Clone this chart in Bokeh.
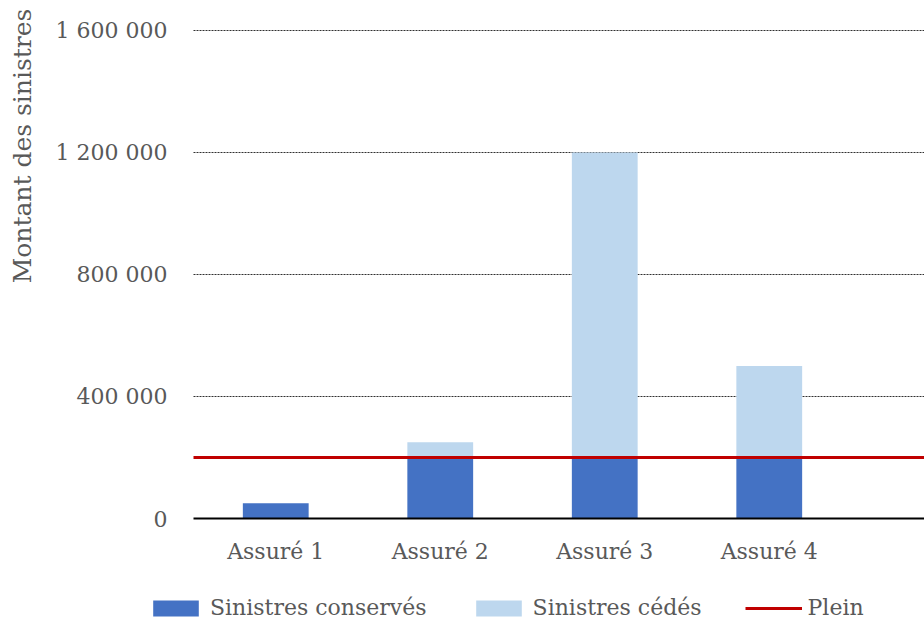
import math
from bokeh.plotting import figure
from bokeh.models import ColumnDataSource, Range1d, Legend, LegendItem
from bokeh.core.properties import value
from bokeh.embed import file_html
from bokeh.resources import INLINE

# Claims per insured, split between the retained part and the ceded part
assures = ["Assuré 1", "Assuré 2", "Assuré 3", "Assuré 4"]
conserves = [50000, 200000, 200000, 200000]
cedes = [0, 50000, 1000000, 300000]
plein = 200000

y_ticks = [0, 400000, 800000, 1200000, 1600000]
y_tick_labels = ["0", "400 000", "800 000", "1 200 000", "1 600 000"]
y_title = "Montant des sinistres"

FONT = value("DejaVu Serif")
FONT_SIZE = value("22px")
GREY = "#595959"
BLUE = "#4472C4"
LIGHT_BLUE = "#BDD7EE"
RED = "#C00000"

# Canvas geometry (pixels): the plotting frame fills the whole canvas and the
# ranges are chosen so that the chart area sits in its usual place.
W, H = 924, 622
AREA_LEFT = 193        # left edge of the bar area
CAT_PX = 164.5         # width of one category slot
ZERO_PX = 518          # screen row of the value 0
TOP_PX = 30            # screen row of the top tick
Y_MAX = y_ticks[-1]

units_per_px = Y_MAX / (ZERO_PX - TOP_PX)
x_end = (W - AREA_LEFT) / CAT_PX
x_range = Range1d(-AREA_LEFT / CAT_PX, x_end)
y_range = Range1d(-(H - ZERO_PX) * units_per_px, Y_MAX + TOP_PX * units_per_px)

pos = [i + 0.5 for i in range(len(assures))]
source = ColumnDataSource(dict(x=pos, conserves=conserves, cedes=cedes))

p = figure(width=W, height=H, output_backend="svg", toolbar_location=None,
           x_range=x_range, y_range=y_range, min_border=0)
p.outline_line_color = None
p.axis.visible = False
p.grid.visible = False

# dotted horizontal grid from the left edge of the bar area
grid_y = y_ticks[1:]
p.segment(x0=[0] * len(grid_y), x1=[x_end] * len(grid_y), y0=grid_y, y1=grid_y,
          line_color="#303030", line_width=1, line_dash="2 1")

bars = p.vbar_stack(["conserves", "cedes"], x="x", width=0.4, source=source,
                    color=[BLUE, LIGHT_BLUE], line_color=None)

# baseline at 0
p.segment(x0=[0], x1=[x_end], y0=[0], y1=[0], line_color="black", line_width=2)

# retention limit ("plein")
plein_line = p.segment(x0=[0], x1=[x_end], y0=[plein], y1=[plein],
                       line_color=RED, line_width=3)

# value labels on the left
p.text(x=[0] * len(y_ticks), y=y_ticks, text=y_tick_labels, x_offset=-26,
       text_align="right", text_baseline="middle", text_font=FONT,
       text_font_size=FONT_SIZE, text_color=GREY)

# category names under the bars
p.text(x=pos, y=[0] * len(pos), text=assures, y_offset=33,
       text_align="center", text_baseline="middle", text_font=FONT,
       text_font_size=FONT_SIZE, text_color=GREY)

# vertical axis title
p.text(x=[0], y=[0], text=[y_title], x_offset=-171, y_offset=-372.5,
       angle=math.pi / 2, text_align="center", text_baseline="middle",
       text_font=FONT, text_font_size=value("25px"), text_color=GREY)

legend = Legend(items=[LegendItem(label="Sinistres conservés", renderers=[bars[0]]),
                       LegendItem(label="Sinistres cédés", renderers=[bars[1]]),
                       LegendItem(label="Plein", renderers=[plein_line], index=0)],
                orientation="horizontal", location=(147, 2),
                glyph_width=57, glyph_height=20, label_standoff=6, spacing=43,
                padding=0, margin=0, border_line_color=None,
                background_fill_alpha=0,
                label_text_font="DejaVu Serif", label_text_font_size="22px",
                label_text_color=GREY)
p.add_layout(legend)

open("out.html", "w").write(file_html(p, INLINE))
